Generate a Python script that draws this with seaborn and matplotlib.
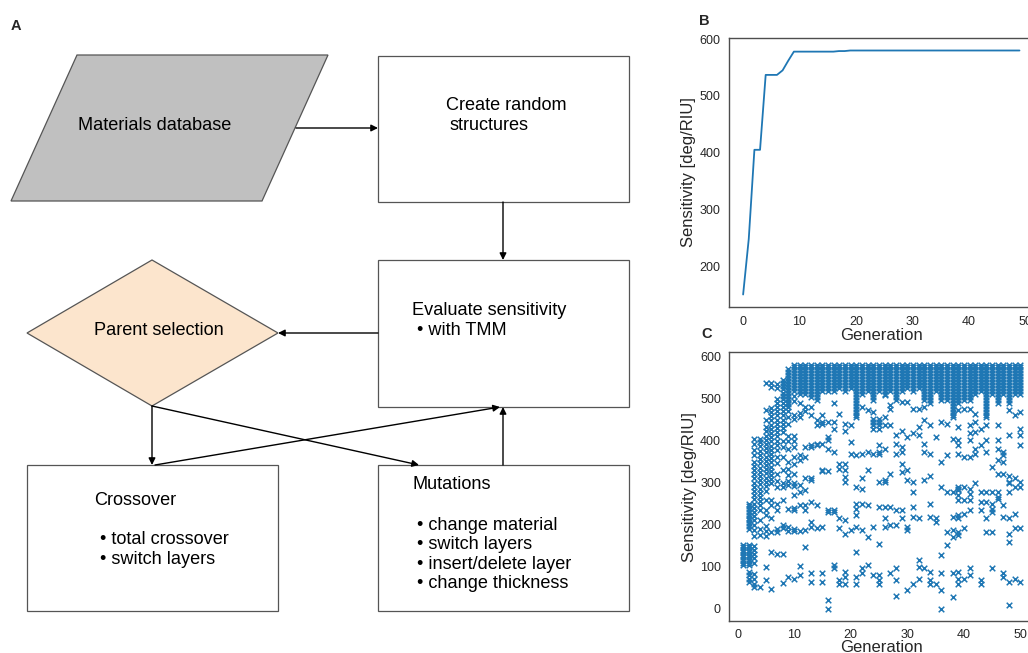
import numpy as np
import pandas as pd
import matplotlib
matplotlib.use("Agg")
import matplotlib.pyplot as plt
from matplotlib.patches import Polygon, Rectangle
import seaborn as sns

# ---------------- data: panel B (best sensitivity per generation) ----------------
gen_b = [0, 1, 2, 3, 4, 5, 6, 7, 8, 9, 10, 11, 12, 13, 14, 15, 16, 17, 18, 19,
         20, 21, 22, 23, 24, 25, 26, 27, 28, 29, 30, 31, 32, 33, 34, 35, 36, 37, 38, 39,
         40, 41, 42, 43, 44, 45, 46, 47, 48, 49]
best_b = [150, 248, 405, 405, 537, 537, 537, 545, 562, 578, 578, 578, 578, 578, 578, 578, 578, 579, 579, 580,
          580, 580, 580, 580, 580, 580, 580, 580, 580, 580, 580, 580, 580, 580, 580, 580, 580, 580, 580, 580,
          580, 580, 580, 580, 580, 580, 580, 580, 580, 580]

# ---------------- data: panel C (all individuals, per generation) ----------------
gen_01 = [152, 146, 140, 134, 128, 122, 116, 110, 104]
gen_02 = [152, 146, 140, 134, 128, 122, 116, 110, 104, 250, 244, 238, 231, 224, 217, 210, 203, 196, 190, 88, 80, 72, 64]
gen_03 = [405, 392, 378, 365, 350, 340, 330, 320, 310, 300, 290, 280, 270, 260, 250, 240, 230, 220, 210, 200, 188, 172,
          150, 140, 130, 120, 110, 82, 72, 60, 52]
gen_04 = [405, 396, 386, 376, 366, 356, 346, 336, 326, 316, 306, 296, 286, 276, 266, 256, 246, 236, 212, 190, 175, 52]
gen_05 = [537, 472, 450, 432, 422, 412, 402, 392, 382, 372, 362, 352, 342, 332, 322, 312, 302, 292, 280, 258, 236, 222,
          196, 186, 172, 100, 68]
gen_06 = [537, 528, 478, 468, 458, 448, 438, 428, 418, 408, 398, 388, 378, 368, 358, 348, 338, 328, 318, 308, 298, 258,
          246, 215, 182, 134, 46]
gen_07 = [535, 525, 500, 490, 480, 470, 460, 450, 440, 430, 420, 410, 400, 390, 378, 362, 346, 320, 305, 290, 250, 236,
          190, 182, 131]
gen_08 = [545, 538, 530, 522, 514, 506, 498, 490, 480, 470, 460, 450, 440, 430, 420, 400, 385, 360, 330, 300, 290, 258,
          200, 192, 130, 62]
gen_09 = [570, 563, 556, 549, 542, 535, 528, 521, 514, 507, 500, 493, 486, 479, 470, 455, 440, 410, 400, 380, 350, 332,
          318, 305, 295, 237, 195, 185, 76]
gen_10 = [581, 574, 567, 560, 553, 546, 539, 532, 525, 518, 505, 495, 460, 452, 410, 400, 384, 362, 345, 320, 300, 292,
          270, 240, 234, 190, 186, 72]
gen_11 = [581, 574, 567, 560, 553, 546, 539, 532, 525, 518, 511, 490, 466, 456, 365, 353, 294, 278, 246, 185, 101, 80]
gen_12 = [581, 574, 567, 560, 553, 546, 539, 532, 525, 518, 511, 480, 470, 384, 361, 310, 282, 246, 234, 187, 147]
gen_13 = [581, 574, 567, 560, 553, 546, 539, 532, 525, 518, 511, 504, 480, 460, 389, 385, 310, 306, 254, 207, 195, 84, 64]
gen_14 = [581, 574, 567, 560, 553, 546, 539, 532, 525, 518, 511, 504, 497, 448, 436, 392, 389, 246, 191]
gen_15 = [581, 574, 567, 560, 553, 546, 539, 532, 525, 518, 462, 444, 440, 393, 329, 327, 195, 84, 64]
gen_16 = [581, 574, 567, 560, 553, 546, 539, 532, 525, 518, 444, 409, 401, 381, 327, 234, 230, 20, 0]
gen_17 = [581, 574, 567, 560, 553, 546, 539, 532, 525, 518, 490, 445, 428, 372, 234, 230, 104, 96]
gen_18 = [581, 574, 567, 560, 553, 546, 539, 532, 525, 464, 345, 333, 215, 191, 68, 60]
gen_19 = [581, 574, 567, 560, 553, 546, 539, 532, 525, 518, 440, 424, 345, 329, 313, 302, 211, 179, 88, 75, 60]
gen_20 = [581, 574, 567, 560, 553, 546, 539, 532, 525, 436, 397, 369, 187]
gen_21 = [581, 574, 567, 560, 553, 546, 539, 532, 525, 518, 511, 504, 497, 490, 483, 476, 469, 462, 455, 365, 290, 250,
          238, 222, 195, 135, 76, 60]
gen_22 = [581, 574, 567, 560, 553, 546, 539, 532, 525, 518, 511, 480, 369, 310, 286, 250, 187, 96, 84]
gen_23 = [581, 574, 567, 560, 553, 546, 539, 532, 525, 518, 472, 373, 329, 246, 171, 105]
gen_24 = [581, 574, 567, 560, 553, 546, 539, 532, 525, 518, 511, 504, 497, 468, 452, 444, 436, 428, 369, 195, 80]
gen_25 = [581, 574, 567, 560, 553, 546, 539, 532, 525, 518, 452, 444, 436, 428, 389, 373, 369, 302, 242, 155, 80, 68, 58]
gen_26 = [581, 574, 567, 560, 553, 546, 539, 532, 525, 518, 511, 508, 456, 436, 381, 306, 302, 242, 215, 195]
gen_27 = [581, 574, 567, 560, 553, 546, 539, 532, 525, 518, 484, 476, 436, 321, 242, 199, 84]
gen_28 = [581, 574, 567, 560, 553, 546, 539, 532, 525, 518, 511, 504, 497, 413, 393, 369, 234, 199, 96, 68, 31]
gen_29 = [581, 574, 567, 560, 553, 546, 539, 532, 525, 518, 492, 424, 385, 373, 345, 325, 234, 215]
gen_30 = [581, 574, 567, 560, 553, 546, 539, 532, 525, 492, 409, 329, 306, 195, 187, 44]
gen_31 = [581, 574, 567, 560, 553, 546, 539, 532, 525, 518, 476, 417, 302, 278, 242, 219, 60]
gen_32 = [581, 574, 567, 560, 553, 546, 539, 532, 525, 476, 432, 413, 215, 116, 100, 72]
gen_33 = [581, 574, 567, 560, 553, 546, 539, 532, 525, 518, 511, 504, 497, 480, 448, 393, 373, 306, 96]
gen_34 = [581, 574, 567, 560, 553, 546, 539, 532, 525, 518, 511, 504, 497, 490, 436, 369, 317, 250, 219, 88, 68, 60]
gen_35 = [581, 574, 567, 560, 553, 546, 539, 532, 525, 518, 409, 215, 207, 60]
gen_36 = [581, 574, 567, 560, 553, 546, 539, 532, 525, 518, 511, 504, 497, 444, 349, 290, 128, 84, 44, 0]
gen_37 = [581, 574, 567, 560, 553, 546, 539, 532, 525, 518, 511, 504, 497, 440, 365, 278, 183, 151]
gen_38 = [581, 574, 567, 560, 553, 546, 539, 532, 525, 518, 511, 504, 497, 490, 483, 476, 469, 462, 455, 405, 278, 219,
          187, 171, 84, 28]
gen_39 = [581, 574, 567, 560, 553, 546, 539, 532, 525, 518, 511, 504, 497, 490, 472, 432, 401, 389, 369, 290, 286, 282,
          270, 258, 222, 215, 183, 175, 88, 72, 60]
gen_40 = [581, 574, 567, 560, 553, 546, 539, 532, 525, 518, 511, 504, 497, 476, 361, 290, 258, 226, 191, 72]
gen_41 = [581, 574, 567, 560, 553, 546, 539, 532, 525, 518, 511, 504, 497, 476, 436, 417, 401, 361, 286, 274, 258, 234,
          96, 80]
gen_42 = [581, 574, 567, 560, 553, 546, 539, 532, 525, 518, 511, 464, 444, 421, 381, 369, 298]
gen_43 = [581, 574, 567, 560, 553, 546, 539, 532, 525, 518, 428, 389, 278, 254, 234, 68, 60]
gen_44 = [581, 574, 567, 560, 553, 546, 539, 532, 525, 518, 511, 504, 497, 490, 483, 476, 469, 462, 455, 436, 401, 373,
          278, 254, 215, 183]
gen_45 = [581, 574, 567, 560, 553, 546, 539, 532, 525, 518, 511, 337, 278, 250, 238, 230, 183, 96]
gen_46 = [581, 574, 567, 560, 553, 546, 539, 532, 525, 518, 511, 504, 497, 490, 436, 401, 381, 353, 321, 278, 266, 262]
gen_47 = [581, 574, 567, 560, 553, 546, 539, 532, 525, 518, 511, 373, 365, 349, 321, 246, 219, 84, 76]
gen_48 = [581, 574, 567, 560, 553, 546, 539, 532, 525, 518, 511, 504, 497, 490, 472, 413, 317, 302, 298, 278, 215, 179,
          159, 64, 9]
gen_49 = [581, 574, 567, 560, 553, 546, 539, 532, 525, 518, 511, 460, 310, 290, 226, 191, 72]
gen_50 = [581, 574, 567, 560, 553, 546, 539, 532, 525, 518, 511, 468, 428, 413, 389, 302, 290, 191, 64]

population = [gen_01, gen_02, gen_03, gen_04, gen_05, gen_06, gen_07, gen_08, gen_09, gen_10,
              gen_11, gen_12, gen_13, gen_14, gen_15, gen_16, gen_17, gen_18, gen_19, gen_20,
              gen_21, gen_22, gen_23, gen_24, gen_25, gen_26, gen_27, gen_28, gen_29, gen_30,
              gen_31, gen_32, gen_33, gen_34, gen_35, gen_36, gen_37, gen_38, gen_39, gen_40,
              gen_41, gen_42, gen_43, gen_44, gen_45, gen_46, gen_47, gen_48, gen_49, gen_50]

rows = []
for g, vals in enumerate(population, start=1):
    for v in vals:
        rows.append((g, v))
df_c = pd.DataFrame(rows, columns=["Generation", "Sensitivity"])
df_b = pd.DataFrame({"Generation": gen_b, "Sensitivity": best_b})

# ---------------- style ----------------
sns.set_style("white")
plt.rcParams["font.family"] = ["Liberation Sans", "DejaVu Sans"]
plt.rcParams["axes.edgecolor"] = "0.3"
plt.rcParams["axes.linewidth"] = 1.0

W, H = 1028, 653
fig = plt.figure(figsize=(W / 100, H / 100), dpi=100)

# ---------------- panel A: flowchart (pixel coordinates) ----------------
ax0 = fig.add_axes([0, 0, 1, 1])
ax0.set_xlim(0, W)
ax0.set_ylim(H, 0)
ax0.axis("off")

edge = "#555555"
ax0.add_patch(Polygon([(77, 55), (328, 55), (262, 201), (11, 201)], closed=True,
                      facecolor="#c0c0c0", edgecolor=edge, lw=0.9))
ax0.add_patch(Rectangle((378, 56), 251, 146, facecolor="white", edgecolor=edge, lw=0.9))
ax0.add_patch(Rectangle((378, 260), 251, 147, facecolor="white", edgecolor=edge, lw=0.9))
ax0.add_patch(Polygon([(152, 260), (278, 333), (152, 406), (27, 333)], closed=True,
                      facecolor="#fce5cd", edgecolor=edge, lw=0.9))
ax0.add_patch(Rectangle((27, 465), 251, 146, facecolor="white", edgecolor=edge, lw=0.9))
ax0.add_patch(Rectangle((378, 465), 251, 146, facecolor="white", edgecolor=edge, lw=0.9))

arrow_kw = dict(arrowstyle="-|>", color="black", lw=1.0, mutation_scale=10, shrinkA=0, shrinkB=0)
for start, end in [((296, 128), (378, 128)),
                   ((503, 202), (503, 260)),
                   ((378, 333), (278, 333)),
                   ((152, 406), (152, 465)),
                   ((152, 406), (419, 465)),
                   ((155, 465), (500, 407)),
                   ((503, 465), (503, 407))]:
    ax0.annotate("", xy=end, xytext=start, arrowprops=arrow_kw)

fs = 13.1
txt = dict(fontsize=fs, color="black", va="baseline", ha="left")
ax0.text(78, 130, "Materials database", **txt)
ax0.text(446, 110, "Create random", **txt)
ax0.text(450, 130, "structures", **txt)
ax0.text(412, 315, "Evaluate sensitivity", **txt)
ax0.text(417, 335, "\u2022 with TMM", **txt)
ax0.text(94, 335, "Parent selection", **txt)
ax0.text(94, 505, "Crossover", **txt)
ax0.text(100, 544, "\u2022 total crossover", **txt)
ax0.text(100, 563.5, "\u2022 switch layers", **txt)
ax0.text(412, 489, "Mutations", **txt)
ax0.text(417, 530, "\u2022 change material", **txt)
ax0.text(417, 549.3, "\u2022 switch layers", **txt)
ax0.text(417, 568.6, "\u2022 insert/delete layer", **txt)
ax0.text(417, 587.9, "\u2022 change thickness", **txt)

ax0.text(11, 30, "A", fontsize=10.5, fontweight="bold", va="baseline", ha="left")
ax0.text(699, 25, "B", fontsize=10.5, fontweight="bold", va="baseline", ha="left")
ax0.text(701, 338, "C", fontsize=10.5, fontweight="bold", va="baseline", ha="left")

# ---------------- panel B ----------------
axB = fig.add_axes([729.3 / W, 1 - 306.7 / H, 304 / W, (306.7 - 38.3) / H])
sns.lineplot(data=df_b, x="Generation", y="Sensitivity", color="#1f77b4", lw=1.3, ax=axB)
axB.set_xticks([0, 10, 20, 30, 40, 50])
axB.set_yticks([200, 300, 400, 500, 600])
axB.set_xlabel("Generation", fontsize=12, labelpad=0)
axB.set_ylabel("Sensitivity [deg/RIU]", fontsize=12, labelpad=2)
axB.tick_params(labelsize=9, colors="0.15", pad=3)

# ---------------- panel C ----------------
axC = fig.add_axes([729.3 / W, 1 - 621 / H, 305 / W, (621 - 352.3) / H])
sns.scatterplot(data=df_c, x="Generation", y="Sensitivity", marker="x", color="#1f77b4",
                s=16, linewidth=1.1, ax=axC)
axC.set_xticks([0, 10, 20, 30, 40, 50])
axC.set_yticks([0, 100, 200, 300, 400, 500, 600])
axC.set_xlabel("Generation", fontsize=12, labelpad=-1)
axC.set_ylabel("Sensitivity [deg/RIU]", fontsize=12, labelpad=2)
axC.tick_params(labelsize=9, colors="0.15", pad=2.5)

fig.savefig("out.png", dpi=100)
